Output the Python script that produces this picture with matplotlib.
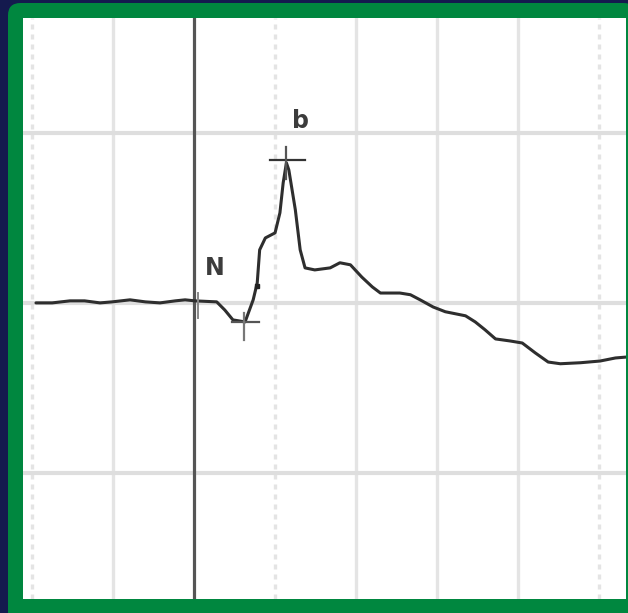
import matplotlib
matplotlib.use("Agg")
import matplotlib.pyplot as plt
from matplotlib.patches import FancyBboxPatch

# --- data (time in ms, amplitude in µV) ---
time_ms = [-19.5, -17.5, -15.3, -13.5, -11.6, -10.1, -7.9, -6.0, -4.2, -2.3, -1.1,
           0.1, 2.8, 3.8, 4.8, 6.3, 7.3, 7.8, 8.1, 8.8, 10.0, 10.6, 11.0, 11.4,
           11.7, 12.5, 13.1, 13.7, 14.9, 16.8, 18.0, 19.3, 20.7, 22.0, 23.0,
           25.4, 26.7, 27.9, 29.5, 31.0, 33.5, 34.7, 35.9, 37.2, 39.0, 40.5,
           42.1, 43.7, 45.2, 47.7, 50.1, 52.0, 53.5]
amp_uv = [0.0, 0.0, 0.6, 0.6, 0.0, 0.3, 0.9, 0.3, 0.0, 0.6, 0.9,
          0.6, 0.3, -2.1, -5.0, -5.6, 0.9, 5.9, 15.6, 19.1, 20.6, 26.5, 35.3, 41.2,
          39.1, 27.4, 15.6, 10.3, 9.7, 10.3, 11.8, 11.2, 7.6, 4.7, 2.9,
          2.9, 2.4, 0.9, -1.2, -2.6, -3.8, -5.6, -7.9, -10.6, -11.2, -11.8,
          -14.7, -17.4, -17.9, -17.6, -17.1, -16.2, -15.9]
x_ticks = [-20, -10, 0, 10, 20, 30, 40, 50]
y_ticks = [-50, 0, 50]
labels = ["N", "b"]
label_t = [2.6, 13.1]
label_v = [10.3, 53.5]

W, H = 628, 613
fig = plt.figure(figsize=(W / 100, H / 100), dpi=100)
fig.patch.set_facecolor("#141a4e")

# green rounded frame
frame = FancyBboxPatch((8 / W, -0.05), 1.0, 1.05 - 3 / H,
                       boxstyle="round,pad=0,rounding_size=0.02",
                       transform=fig.transFigure, facecolor="#00873f",
                       edgecolor="none", zorder=-5)
fig.patches.append(frame)

ax = fig.add_axes([23 / W, (H - 599) / H, (626 - 23) / W, (599 - 18) / H])
ax.set_zorder(5)
ax.set_facecolor("white")
ax.set_xlim(-21.1, 53.3)
ax.set_ylim(-87.1, 83.8)
for s in ax.spines.values():
    s.set_visible(False)
ax.set_xticks([])
ax.set_yticks([])

# grid
for t in x_ticks:
    if t == 0:
        continue
    ls = (0, (1.5, 1.5)) if t in (-20, 10, 50) else "-"
    ax.axvline(t, color="#e4e4e4", lw=2.4, ls=ls, zorder=1)
for v in y_ticks:
    ax.axhline(v, color="#dedede", lw=3.0, zorder=1)
ax.axvline(0, color="#555555", lw=2.3, zorder=2)

# trace
ax.plot(time_ms, amp_uv, color="#2e2e2e", lw=2.2, zorder=4,
        solid_joinstyle="round", solid_capstyle="round")

# markers
ax.plot([9.4, 13.7], [42.0, 42.0], color="#333333", lw=1.6, zorder=5)
ax.plot([11.3, 11.3], [46.0, 36.5], color="#555555", lw=1.6, zorder=5)
ax.plot([4.7, 8.0], [-5.6, -5.6], color="#555555", lw=1.6, zorder=5)
ax.plot([6.2, 6.2], [-3.0, -11.0], color="#777777", lw=1.6, zorder=5)
ax.plot([0.5, 0.5], [3.0, -4.5], color="#888888", lw=1.4, zorder=5)
ax.plot([7.8], [5.0], marker="s", ms=3.5, color="#222222", zorder=6)

for lab, t, v in zip(labels, label_t, label_v):
    ax.text(t, v, lab, fontsize=17, color="#3c3c3c", ha="center",
            va="center", fontweight="semibold", zorder=6)

fig.savefig("out.png", dpi=100, facecolor=fig.get_facecolor())
